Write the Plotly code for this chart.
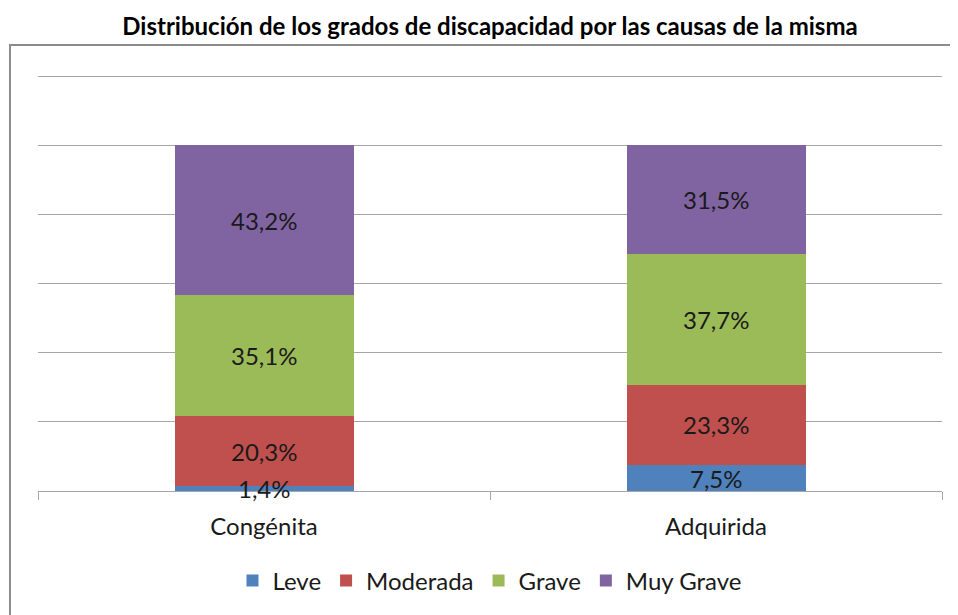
import plotly.graph_objects as go

CATEGORIES = ["Congénita", "Adquirida"]
LEVE = [1.4, 7.5]
MODERADA = [20.3, 23.3]
GRAVE = [35.1, 37.7]
MUY_GRAVE = [43.2, 31.5]

SERIES = [
    ("Leve", LEVE, "#4F81BD"),
    ("Moderada", MODERADA, "#C0504D"),
    ("Grave", GRAVE, "#9BBB59"),
    ("Muy Grave", MUY_GRAVE, "#8064A2"),
]

FONT_FAMILY = "Lato, Carlito, 'Open Sans', sans-serif"
GRID = "#a6a6a6"
TEXT = "#1a1a1a"


def pct(v):
    return f"{v:.1f}%".replace(".", ",")


fig = go.Figure()
base = [0.0] * len(CATEGORIES)
for name, vals, colour in SERIES:
    fig.add_trace(go.Bar(
        x=CATEGORIES,
        y=vals,
        name=name,
        marker=dict(color=colour, line=dict(width=0)),
        hoverinfo="name+y",
    ))
    # data labels centred on each segment (the thin 1,4% one overflows, as in the original)
    for i, (cat, v) in enumerate(zip(CATEGORIES, vals)):
        fig.add_annotation(
            x=cat, y=base[i] + v / 2, xref="x", yref="y",
            text=pct(v), showarrow=False,
            font=dict(size=24, color=TEXT, family=FONT_FAMILY),
            xanchor="center", yanchor="middle",
        )
        base[i] += v

# outer frame of the chart area
fig.add_shape(
    type="rect", xref="paper", yref="paper",
    x0=-0.031, x1=1.2, y0=-0.6, y1=1.072,
    line=dict(color="#8c8c8c", width=2),
    fillcolor="rgba(0,0,0,0)",
    layer="below",
)

# page body adds an 8px offset, so margins are shifted to compensate
fig.update_layout(
    barmode="stack",
    bargap=0.604,
    width=958,
    height=615,
    margin=dict(l=30, r=24, t=67, b=132),
    paper_bgcolor="white",
    plot_bgcolor="white",
    font=dict(family=FONT_FAMILY, size=24, color=TEXT),
    title=dict(
        text="<b>Distribución de los grados de discapacidad por las causas de la misma</b>",
        x=0.5, xref="paper", xanchor="center",
        y=0.969, yref="container", yanchor="middle",
        font=dict(size=24, color="black", family=FONT_FAMILY),
    ),
    xaxis=dict(
        showline=True, linecolor=GRID, linewidth=1,
        ticks="outside", tickson="boundaries", ticklen=8, tickcolor=GRID,
        tickfont=dict(size=24, color=TEXT),
        ticklabelstandoff=14,
        showgrid=False,
    ),
    yaxis=dict(
        range=[0, 120.4], dtick=20,
        showgrid=True, gridcolor=GRID, gridwidth=1,
        showticklabels=False, zeroline=False,
    ),
    legend=dict(
        orientation="h", x=0.5, xanchor="center",
        y=-0.216, yanchor="middle",
        font=dict(size=24, color=TEXT),
        traceorder="normal",
    ),
    showlegend=True,
)

fig.write_html("out.html")
